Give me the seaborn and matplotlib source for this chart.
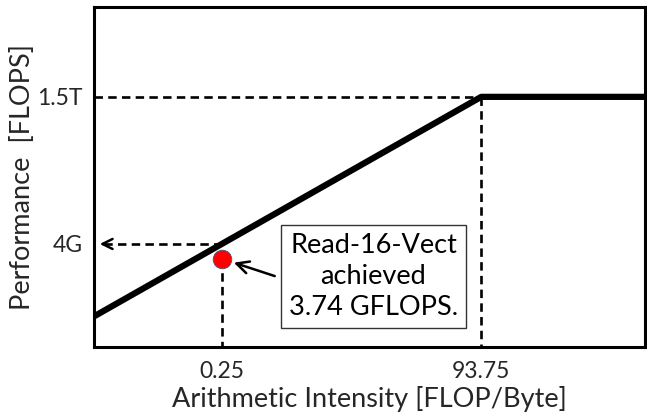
import numpy as np
import pandas as pd
import matplotlib
matplotlib.use("Agg")
import matplotlib.pyplot as plt
import seaborn as sns

# ---- data ----
roof_ai = [0.0135, 93.75, 3950.0]          # FLOP/Byte
roof_perf = [2.16e8, 1.5e12, 1.5e12]       # FLOPS
ridge_ai = 93.75
peak_perf = 1.5e12
kernel_ai = 0.25
kernel_bound = 4e9
kernel_plot_perf = 2.2e9                   # position of dot as drawn
x_ticks = [0.25, 93.75]
x_tick_labels = ["0.25", "93.75"]
y_ticks = [4e9, 1.5e12]
y_tick_labels = ["4G", "1.5T"]
x_limits = [0.0135, 3950.0]
y_limits = [6.3e7, 5.6e13]
box_text = "Read-16-Vect\nachieved\n3.74 GFLOPS."

sns.set_theme(style="white")
plt.rcParams['font.family'] = ['Lato', 'DejaVu Sans']

fig = plt.figure(figsize=(6.47, 4.13), dpi=100)
ax = fig.add_axes([94/647, 1-347/413, 551/647, 340/413])

df = pd.DataFrame({"ai": roof_ai, "perf": roof_perf})
sns.lineplot(data=df, x="ai", y="perf", ax=ax, color="black", lw=4.5,
             solid_capstyle="butt", zorder=4)
ax.set_xscale("log")
ax.set_yscale("log")
ax.set_xlim(*x_limits)
ax.set_ylim(*y_limits)

dash = dict(color="black", lw=1.9, ls=(0, (3.2, 2.0)), zorder=3)
# peak horizontal & ridge vertical
ax.plot([x_limits[0], ridge_ai], [peak_perf, peak_perf], **dash)
ax.plot([ridge_ai, ridge_ai], [peak_perf, y_limits[0]], **dash)
# kernel vertical
ax.plot([kernel_ai, kernel_ai], [kernel_plot_perf, y_limits[0]], **dash)
# 4G horizontal with arrow
ax.plot([kernel_ai, x_limits[0] * 1.25], [kernel_bound, kernel_bound], **dash)
ax.annotate("", xy=(x_limits[0] * 1.07, kernel_bound),
            xytext=(x_limits[0] * 1.4, kernel_bound),
            arrowprops=dict(arrowstyle="->", color="black", lw=1.8,
                            mutation_scale=18), zorder=5)

# dot
ax.scatter([kernel_ai], [kernel_plot_perf], s=180, color="#ff0000",
           edgecolor="#4a5a80", linewidth=0.6, zorder=6)

# text box
ax.text(8.0, 1.08e9, box_text, ha="center", va="center", fontsize=19.5,
        linespacing=1.3, color="black", zorder=7,
        bbox=dict(boxstyle="square,pad=0.3", fc="white", ec="#333333", lw=1.0))
ax.annotate("", xy=(0.31, 1.95e9), xytext=(0.89, 1.06e9),
            arrowprops=dict(arrowstyle="->", color="black", lw=1.8,
                            mutation_scale=22), zorder=7)

ax.set_xticks(x_ticks)
ax.set_xticklabels(x_tick_labels)
ax.set_yticks(y_ticks)
ax.set_yticklabels(y_tick_labels)
ax.minorticks_off()
ax.tick_params(axis="both", length=5, width=1.8, color="black",
               labelsize=16.5, pad=3, direction="out")
ax.tick_params(axis="x", pad=5)

for s in ax.spines.values():
    s.set_color("black")
    s.set_linewidth(2.2)

ax.set_xlabel("Arithmetic Intensity [FLOP/Byte]", fontsize=19.5, labelpad=3)
ax.set_ylabel("Performance  [FLOPS]", fontsize=19.5, labelpad=2)

fig.savefig("out.png", dpi=100)
